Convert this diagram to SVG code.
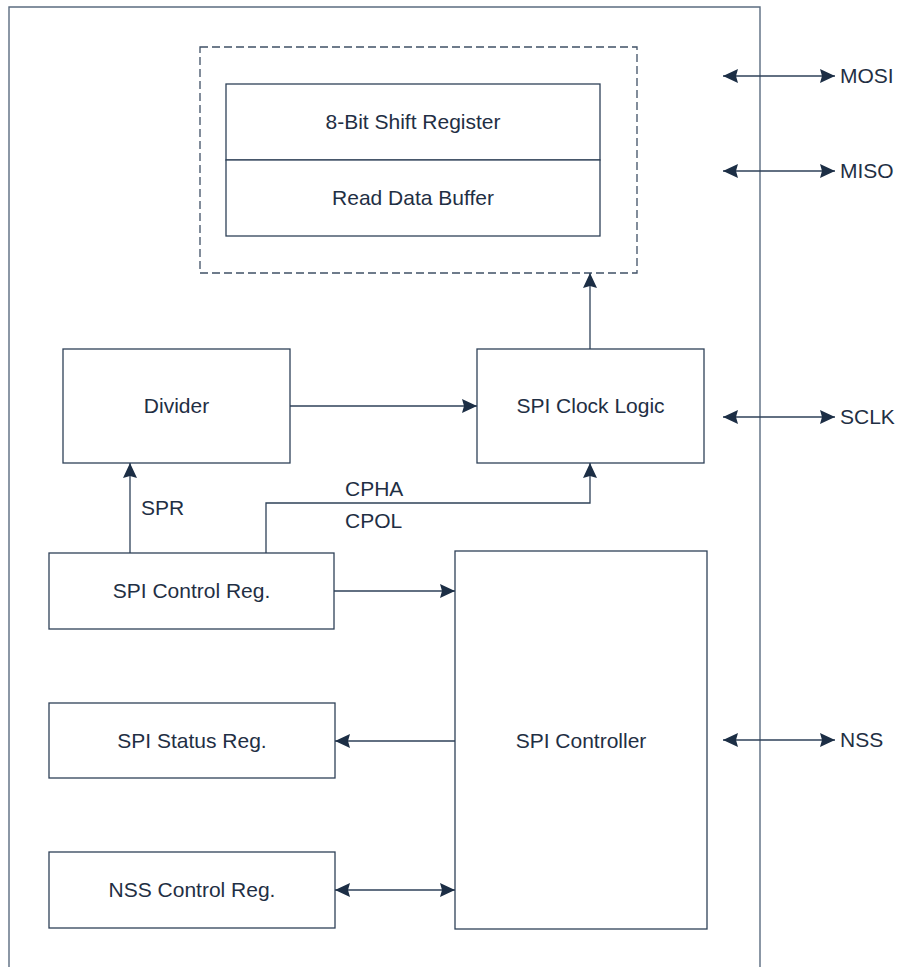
<svg xmlns="http://www.w3.org/2000/svg" width="898" height="967" viewBox="0 0 898 967">
<style>
  .box { fill: #ffffff; stroke: #2e4158; stroke-width: 1.3; }
  .frame { fill: none; stroke: #5b6c80; stroke-width: 1.4; }
  .dash { fill: none; stroke: #3f5066; stroke-width: 1.3; stroke-dasharray: 8 4; }
  .lbl { font-family: "Liberation Sans", Arial, sans-serif; font-size: 21px; fill: #1f2f44; }
  .mid { text-anchor: middle; }
  .conn { fill: none; stroke: #2e4158; stroke-width: 1.3; }
</style>
<defs>
  <marker id="ah" viewBox="0 0 15 14" refX="15" refY="7" markerWidth="15" markerHeight="14" orient="auto-start-reverse" markerUnits="userSpaceOnUse">
    <path d="M0,0 L15,7 L0,14 L2,7 z" fill="#1c2e45"/>
  </marker>
</defs>
<rect width="898" height="967" fill="#ffffff"/>

<g id="frame">
  <path class="frame" d="M9,967 V7 H760 V967"/>
</g>

<g id="data-block">
  <rect class="dash" x="200" y="47" width="437" height="226"/>
</g>

<g id="shift-register">
  <rect class="box" x="226" y="84" width="374" height="76"/>
  <text class="lbl mid" x="413" y="129">8-Bit Shift Register</text>
</g>
<g id="read-data-buffer">
  <rect class="box" x="226" y="160" width="374" height="76"/>
  <text class="lbl mid" x="413" y="205">Read Data Buffer</text>
</g>

<g id="divider">
  <rect class="box" x="63" y="349" width="227" height="114"/>
  <text class="lbl mid" x="176.5" y="413">Divider</text>
</g>

<g id="spi-clock-logic">
  <rect class="box" x="477" y="349" width="227" height="114"/>
  <text class="lbl mid" x="590.5" y="413">SPI Clock Logic</text>
</g>

<g id="spi-control-reg">
  <rect class="box" x="49" y="553" width="285" height="76"/>
  <text class="lbl mid" x="191.5" y="598">SPI Control Reg.</text>
</g>

<g id="spi-status-reg">
  <rect class="box" x="49" y="703" width="286" height="75"/>
  <text class="lbl mid" x="192" y="748">SPI Status Reg.</text>
</g>

<g id="nss-control-reg">
  <rect class="box" x="49" y="852" width="286" height="76"/>
  <text class="lbl mid" x="192" y="897">NSS Control Reg.</text>
</g>

<g id="spi-controller">
  <rect class="box" x="455" y="551" width="252" height="378"/>
  <text class="lbl mid" x="581" y="748">SPI Controller</text>
</g>

<g id="connectors">
  <path class="conn" d="M590,349 V273" marker-end="url(#ah)"/>
  <path class="conn" d="M290,406 H477" marker-end="url(#ah)"/>
  <path class="conn" d="M130,553 V463" marker-end="url(#ah)"/>
  <path class="conn" d="M266,553 V503 H590 V463" marker-end="url(#ah)"/>
  <path class="conn" d="M334,591 H455" marker-end="url(#ah)"/>
  <path class="conn" d="M455,741 H335" marker-end="url(#ah)"/>
  <path class="conn" d="M335,890 H455" marker-start="url(#ah)" marker-end="url(#ah)"/>
  <path class="conn" d="M723,76 H835" marker-start="url(#ah)" marker-end="url(#ah)"/>
  <path class="conn" d="M723,171 H835" marker-start="url(#ah)" marker-end="url(#ah)"/>
  <path class="conn" d="M723,417 H835" marker-start="url(#ah)" marker-end="url(#ah)"/>
  <path class="conn" d="M723,740 H835" marker-start="url(#ah)" marker-end="url(#ah)"/>
</g>

<g id="labels">
  <text class="lbl" x="141" y="515">SPR</text>
  <text class="lbl" x="345" y="496">CPHA</text>
  <text class="lbl" x="345" y="528">CPOL</text>
  <text class="lbl" x="840" y="83">MOSI</text>
  <text class="lbl" x="840" y="178">MISO</text>
  <text class="lbl" x="840" y="424">SCLK</text>
  <text class="lbl" x="840" y="747">NSS</text>
</g>
</svg>
